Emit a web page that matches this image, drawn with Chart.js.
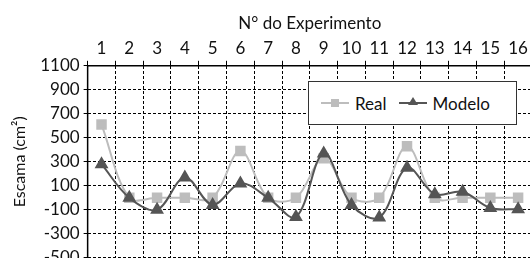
<!DOCTYPE html>
<html>
<head>
<meta charset="utf-8">
<script src="https://cdn.jsdelivr.net/npm/chart.js@4"></script>
<style>
  html, body { margin: 0; padding: 0; background: #fff; overflow: hidden; }
  #wrap { position: relative; width: 546px; height: 272px; }
  #legend {
    position: absolute; left: 308px; top: 81px; width: 207px; height: 42px;
    background: #fff; border: 1px solid #333; font-family: Lato, sans-serif;
    font-size: 17px; color: #111; display: flex; align-items: center;
  }
  .item { display: flex; align-items: center; margin-left: 12px; }
  .sample { position: relative; width: 28px; height: 2px; margin-right: 6px; }
  .sq { position: absolute; left: 10px; top: -3px; width: 8px; height: 8px; }
  .tri { position: absolute; left: 9px; top: -5px; width: 0; height: 0;
         border-left: 5px solid transparent; border-right: 5px solid transparent; border-bottom: 8px solid #555; }
</style>
</head>
<body>
<div id="wrap">
  <canvas id="chart"></canvas>
  <div id="legend">
    <div class="item"><div class="sample" style="background:#bdbdbd"><div class="sq" style="background:#bdbdbd"></div></div>Real</div>
    <div class="item"><div class="sample" style="background:#555"><div class="tri"></div></div>Modelo</div>
  </div>
</div>
<script>
const experiments = ['1','2','3','4','5','6','7','8','9','10','11','12','13','14','15','16'];
const realValues = [610, 0, 0, 0, 0, 390, 0, 0, 330, 0, 0, 430, 0, 0, 0, 0];
const modeloValues = [280, 0, -100, 170, -60, 120, 0, -160, 370, -60, -165, 250, 30, 50, -85, -95];

const ctx = document.getElementById('chart').getContext('2d');
const font = { family: 'Lato, sans-serif', size: 17 };

// solid axis lines on the left and top (grid lines themselves are dashed)
const axisLines = {
    id: 'axisLines',
    afterDraw(chart) {
        const a = chart.chartArea;
        const c = chart.ctx;
        c.save();
        c.strokeStyle = '#000';
        c.lineWidth = 1.5;
        c.beginPath();
        c.moveTo(a.left, a.bottom);
        c.lineTo(a.left, a.top);
        c.lineTo(a.right, a.top);
        c.stroke();
        c.restore();
    }
};

new Chart(ctx, {
    type: 'line',
    data: {
        labels: experiments,
        datasets: [{
            label: 'Real',
            data: realValues,
            borderColor: '#bdbdbd',
            backgroundColor: '#bdbdbd',
            pointStyle: 'rect',
            pointRadius: 6,
            borderWidth: 2,
            tension: 0.35,
            order: 2
        }, {
            label: 'Modelo',
            data: modeloValues,
            borderColor: '#555',
            backgroundColor: '#555',
            pointStyle: 'triangle',
            pointRadius: 6,
            borderWidth: 2,
            tension: 0.35,
            order: 1
        }]
    },
    options: {
        responsive: true,
        maintainAspectRatio: false,
        animation: false,
        layout: { padding: { left: 10, right: 14, top: 13, bottom: 2 } },
        plugins: {
            legend: { display: false },
            tooltip: { enabled: false }
        },
        scales: {
            x: {
                position: 'top',
                offset: true,
                title: { display: true, text: 'N° do Experimento', color: '#111', font: font, padding: { top: 0, bottom: 3 } },
                grid: { offset: true, color: '#000', tickLength: 5 },
                border: { color: '#000', width: 1, dash: [3, 2] },
                ticks: { color: '#111', font: font, maxRotation: 0, autoSkip: false, padding: 2 }
            },
            y: {
                min: -500,
                max: 1100,
                title: { display: true, text: 'Escama (cm²)', color: '#111', font: { family: 'Lato, sans-serif', size: 16 }, padding: { top: 0, bottom: 7 } },
                grid: { color: '#000', tickLength: 4 },
                border: { color: '#000', width: 1, dash: [3, 2] },
                ticks: { stepSize: 200, autoSkip: false, color: '#111', font: font, padding: 4,
                    callback: function(value) { return String(value); } }
            }
        }
    },
    plugins: [axisLines]
});
</script>
</body>
</html>
